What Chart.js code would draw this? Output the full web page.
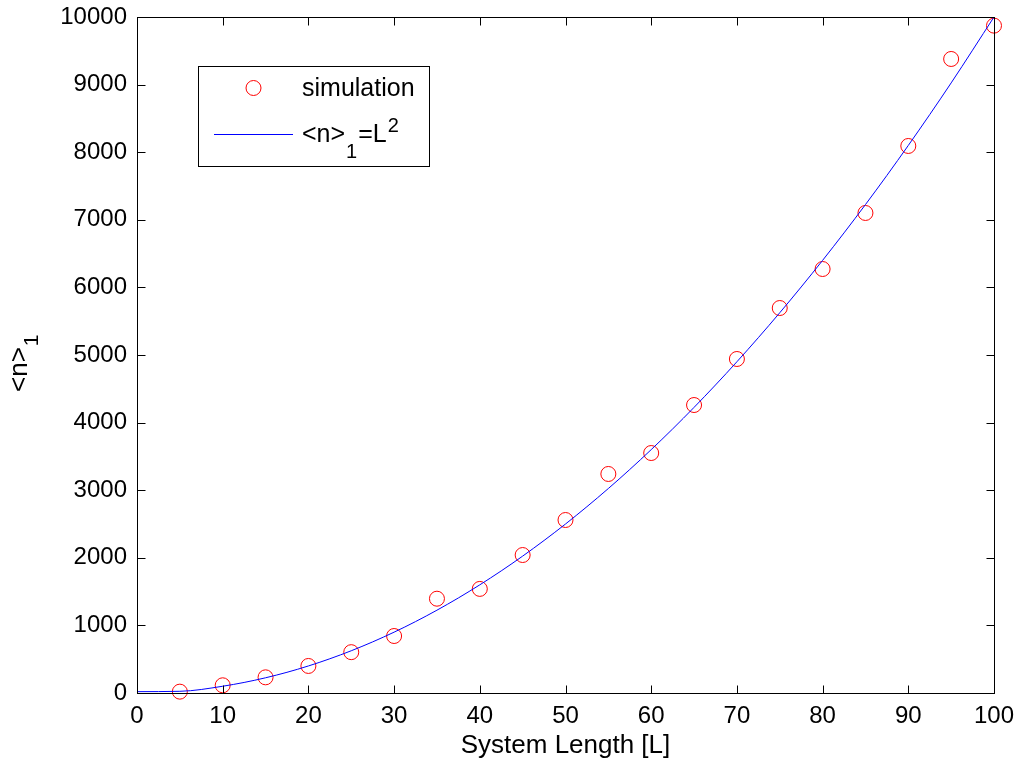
<!DOCTYPE html>
<html>
<head>
<meta charset="utf-8">
<script src="https://cdn.jsdelivr.net/npm/chart.js@4.4.1/dist/chart.umd.min.js"></script>
<style>
  html, body { margin: 0; padding: 0; background: #ffffff; }
  #wrap { width: 1020px; height: 765px; position: relative; }
</style>
</head>
<body>
<div id="wrap"><canvas id="c" width="1020" height="765"></canvas></div>
<script>
// ---- data ----
const simLengths = [5, 10, 15, 20, 25, 30, 35, 40, 45, 50, 55, 60, 65, 70, 75, 80, 85, 90, 95, 100];
const simValues  = [20, 114, 232, 400, 604, 843, 1395, 1540, 2041, 2559, 3240, 3550, 4260, 4941, 5695, 6272, 7101, 8092, 9379, 9872];
const fitLengths = [0, 5, 10, 15, 20, 25, 30, 35, 40, 45, 50, 55, 60, 65, 70, 75, 80, 85, 90, 95, 100];
const fitValues  = [20, 25, 100, 225, 400, 625, 900, 1225, 1600, 2025, 2500, 3025, 3600, 4225, 4900, 5625, 6400, 7225, 8100, 9025, 10000];
const xTickValues = [0, 10, 20, 30, 40, 50, 60, 70, 80, 90, 100];
const yTickValues = [0, 1000, 2000, 3000, 4000, 5000, 6000, 7000, 8000, 9000, 10000];
const simLabel = 'simulation';
const xTitle = 'System Length [L]';

const FONT = '"Liberation Sans", Arial, Helvetica, sans-serif';

const framePlugin = {
  id: 'frame',
  afterDraw(chart) {
    const { ctx, chartArea: a, scales } = chart;
    const xs = scales.x, ys = scales.y;
    ctx.save();
    ctx.strokeStyle = '#000';
    ctx.lineWidth = 1;
    const L = Math.round(a.left) + 0.5, R = Math.round(a.right) + 0.5;
    const T = Math.round(a.top) + 0.5, B = Math.round(a.bottom) + 0.5;
    ctx.strokeRect(L, T, R - L, B - T);
    const tl = 8;
    ctx.beginPath();
    xTickValues.forEach(v => {
      const px = Math.round(xs.getPixelForValue(v)) + 0.5;
      ctx.moveTo(px, B); ctx.lineTo(px, B - tl);
      ctx.moveTo(px, T); ctx.lineTo(px, T + tl);
    });
    yTickValues.forEach(v => {
      const py = Math.round(ys.getPixelForValue(v)) + 0.5;
      ctx.moveTo(L, py); ctx.lineTo(L + tl, py);
      ctx.moveTo(R, py); ctx.lineTo(R - tl, py);
    });
    ctx.stroke();

    // y-axis title "<n>" with subscript 1 (rotated)
    ctx.save();
    ctx.translate(27, 392);
    ctx.rotate(-Math.PI / 2);
    ctx.fillStyle = '#000';
    ctx.textBaseline = 'alphabetic';
    ctx.textAlign = 'left';
    ctx.font = '26px ' + FONT;
    const mainTxt = '<n>';
    ctx.fillText(mainTxt, 0, 0);
    const w = ctx.measureText(mainTxt).width;
    ctx.font = '21px ' + FONT;
    ctx.fillText('1', w + 1, 11);
    ctx.restore();

    // legend
    const line = chart.data.datasets[0];
    const sim = chart.data.datasets[1];
    ctx.fillStyle = '#fff';
    ctx.fillRect(198.5, 66.5, 231, 100);
    ctx.strokeStyle = '#000';
    ctx.strokeRect(198.5, 66.5, 231, 100);
    ctx.beginPath();
    ctx.strokeStyle = sim.borderColor;
    ctx.lineWidth = 1;
    ctx.arc(253.5, 88, 7.5, 0, Math.PI * 2);
    ctx.stroke();
    ctx.fillStyle = '#000';
    ctx.font = '25px ' + FONT;
    ctx.textBaseline = 'alphabetic';
    ctx.fillText(sim.label, 302, 96);
    ctx.beginPath();
    ctx.strokeStyle = line.borderColor;
    ctx.moveTo(214, 134.5); ctx.lineTo(293, 134.5);
    ctx.stroke();
    ctx.fillStyle = '#000';
    let x = 302;
    ctx.font = '25px ' + FONT;
    ctx.fillText('<n>', x, 142); x += ctx.measureText('<n>').width + 1;
    ctx.font = '20px ' + FONT;
    ctx.fillText('1', x, 158); x += ctx.measureText('1').width + 1;
    ctx.font = '25px ' + FONT;
    ctx.fillText('=L', x, 142); x += ctx.measureText('=L').width + 1;
    ctx.font = '20px ' + FONT;
    ctx.fillText('2', x, 132);
    ctx.restore();
  }
};

new Chart(document.getElementById('c'), {
  type: 'scatter',
  data: {
    datasets: [
      {
        type: 'line',
        label: '<n>1=L2',
        data: fitLengths.map((x, i) => ({ x: x, y: fitValues[i] })),
        borderColor: '#0000ff',
        borderWidth: 1,
        pointRadius: 0,
        fill: false,
        cubicInterpolationMode: 'monotone',
        order: 0
      },
      {
        label: simLabel,
        data: simLengths.map((x, i) => ({ x: x, y: simValues[i] })),
        borderColor: '#ff0000',
        backgroundColor: 'rgba(0,0,0,0)',
        borderWidth: 1,
        pointRadius: 7.5,
        pointHoverRadius: 7.5,
        showLine: false,
        clip: false,
        order: 1
      }
    ]
  },
  options: {
    responsive: false,
    animation: false,
    devicePixelRatio: 1,
    layout: { padding: { top: 17, right: 26, left: 0, bottom: 0 } },
    plugins: { legend: { display: false }, tooltip: { enabled: false } },
    scales: {
      x: {
        type: 'linear',
        min: 0, max: 100,
        afterFit(s) { s.height = 72; s.paddingLeft = 0; s.paddingRight = 0; },
        afterBuildTicks(s) { s.ticks = xTickValues.map(v => ({ value: v })); },
        grid: { display: false, drawTicks: false },
        border: { display: false },
        ticks: { color: '#000', font: { family: FONT, size: 24 }, padding: 9, maxRotation: 0, autoSkip: false },
        title: { display: true, text: xTitle, color: '#000', font: { family: FONT, size: 26 }, padding: { top: 0, bottom: 4 } }
      },
      y: {
        type: 'linear',
        min: 0, max: 10000,
        afterFit(s) { s.width = 137; s.paddingTop = 0; s.paddingBottom = 0; },
        afterBuildTicks(s) { s.ticks = yTickValues.map(v => ({ value: v })); },
        grid: { display: false, drawTicks: false },
        border: { display: false },
        ticks: { color: '#000', font: { family: FONT, size: 24 }, padding: 10, autoSkip: false, callback: v => String(v) }
      }
    }
  },
  plugins: [framePlugin]
});
</script>
</body>
</html>
